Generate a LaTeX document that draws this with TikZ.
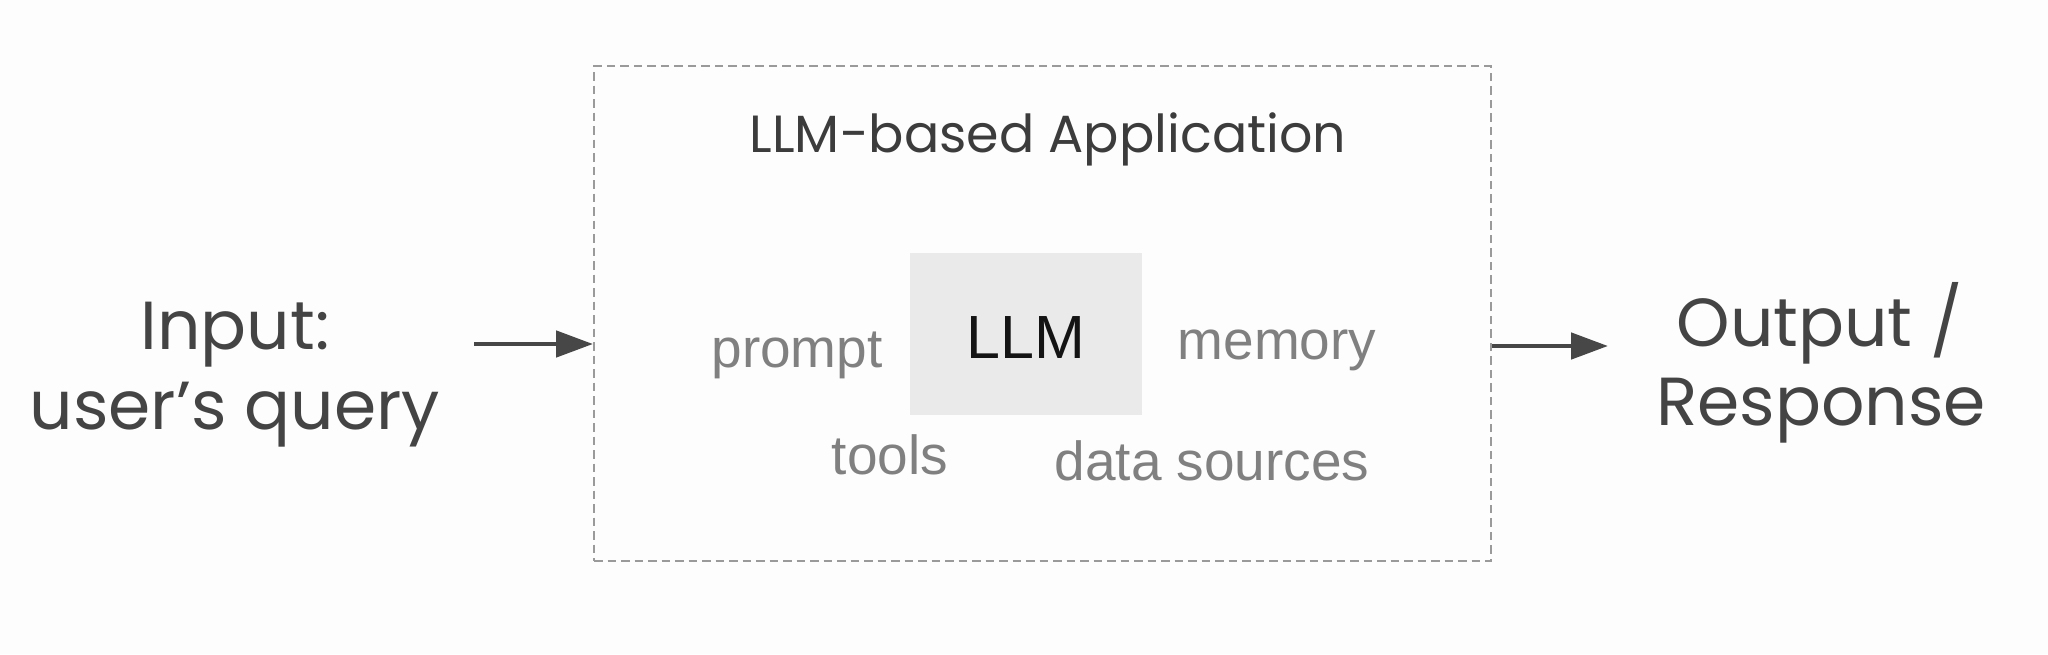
\documentclass[tikz,border=0pt]{standalone}
\usepackage{fontspec}
\setmainfont{Poppins}
\newfontfamily\labfont{Liberation Sans}
\usetikzlibrary{arrows.meta}
\definecolor{bg}{HTML}{FDFDFD}
\definecolor{bigtext}{HTML}{444444}
\definecolor{titletext}{HTML}{3C3C3C}
\definecolor{labtext}{HTML}{808080}
\definecolor{llmfill}{HTML}{EAEAEA}
\definecolor{dashcol}{HTML}{9A9A9A}
\definecolor{arrowcol}{HTML}{474747}
\tikzset{
  bigtxt/.style={anchor=base, inner sep=0pt, text=bigtext, font=\fontsize{68}{80}\selectfont},
  titletxt/.style={anchor=base, inner sep=0pt, text=titletext, font=\fontsize{52.3}{60}\selectfont},
  labtxt/.style={anchor=base, inner sep=0pt, text=labtext, font=\labfont\fontsize{55}{60}\selectfont},
  llmtxt/.style={anchor=base, inner sep=0pt, text=black!92, font=\labfont\fontsize{61}{70}\selectfont},
  appbox/.style={draw=dashcol, line width=2pt, dash pattern=on 8.5pt off 5pt, minimum width=897pt, minimum height=495pt, inner sep=0pt},
  llmbox/.style={fill=llmfill, minimum width=232pt, minimum height=162pt, inner sep=0pt},
  flow/.style={draw=arrowcol, line width=4.8pt, -{Triangle[length=37pt,width=26pt]}}
}
\begin{document}
\begin{tikzpicture}[x=1pt,y=-1pt]
\fill[bg] (0,0) rectangle (2048,654);
\useasboundingbox (0,0) rectangle (2048,654);

\node[appbox] (app) at (1042.5,313.5) {};
\node[llmbox] (llmb) at (1025.5,334) {};

\node[titletxt] (title) at (1048,152) {LLM-based Application};
\node[llmtxt] (llm) at (1025.5,358) {LLM};
\node[labtxt] (prompt) at (797,367) {prompt};
\node[labtxt] (memory) at (1277,359) {memory};
\node[labtxt] (tools) at (890,474) {tools};
\node[labtxt] (data) at (1212,480) {data sources};

\node[bigtxt] (in1) at (235,349) {Input:};
\node[bigtxt] (in2) at (235,429) {user’s query};
\node[bigtxt] (out1) at (1820,346) {Output /};
\node[bigtxt] (out2) at (1821,425) {Response};

\coordinate (inarr) at (474,344);
\coordinate (outarr) at (1608,346);
\draw[flow] (inarr) -- (app.west |- inarr);
\draw[flow] (app.east |- outarr) -- (outarr);
\end{tikzpicture}
\end{document}
